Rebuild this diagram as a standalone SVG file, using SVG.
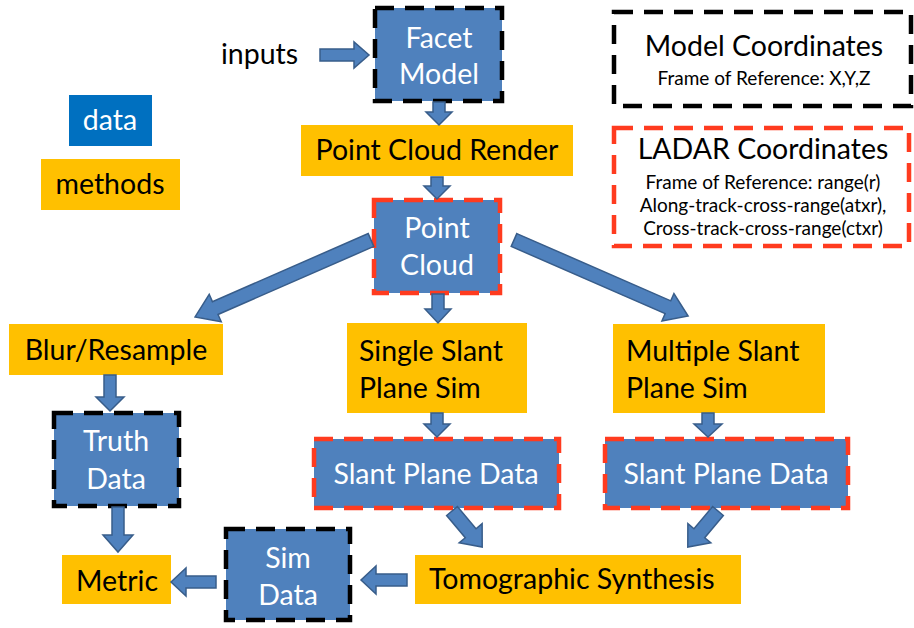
<svg xmlns="http://www.w3.org/2000/svg" width="914" height="628" viewBox="0 0 914 628">
<style>
text{font-family:Lato,"Open Sans","Liberation Sans",sans-serif;font-size:28.5px}
.w{fill:#ffffff}
.k{fill:#000000}
.c{text-anchor:middle}
.sm{font-size:19px}
.data{fill:#4f81bd}
.meth{fill:#ffc000}
.dk{fill:none;stroke:#000000;stroke-width:4.5;stroke-dasharray:19 11}
.dr{fill:none;stroke:#ff3b1f;stroke-width:4.5;stroke-dasharray:19 11}
.ar{fill:#4f81bd;stroke:#385d8a;stroke-width:1.5;stroke-linejoin:miter}
</style>
<rect width="914" height="628" fill="#ffffff"/>

<g id="legend-data"><rect x="69" y="95" width="83" height="51" fill="#0070c0"/><text class="w c" x="110" y="130">data</text></g>
<g id="legend-methods"><rect x="41" y="159" width="139" height="51" class="meth"/><text class="k c" x="110" y="194">methods</text></g>

<g id="model-coords"><rect x="614" y="12" width="297" height="94" class="dk"/>
<text class="k c" x="764" y="56">Model Coordinates</text>
<text class="k c sm" x="764" y="85">Frame of Reference: X,Y,Z</text></g>

<g id="ladar-coords"><rect x="614" y="128" width="295" height="118" class="dr"/>
<text class="k c" x="763" y="159">LADAR Coordinates</text>
<text class="k c sm" x="763" y="189">Frame of Reference: range(r)</text>
<text class="k c sm" x="763" y="212">Along-track-cross-range(atxr),</text>
<text class="k c sm" x="763" y="235">Cross-track-cross-range(ctxr)</text></g>

<g id="inputs"><text class="k" x="221" y="64">inputs</text></g>

<g id="facet-model"><rect x="375" y="8" width="127" height="93" class="data"/><rect x="375" y="8" width="127" height="93" class="dk"/>
<text class="w c" x="439" y="48">Facet</text><text class="w c" x="439" y="84">Model</text></g>

<g id="point-cloud-render"><rect x="301" y="125" width="272" height="51" class="meth"/><text class="k c" x="437" y="160">Point Cloud Render</text></g>

<g id="point-cloud"><rect x="374" y="200" width="126" height="93" class="data"/><rect x="374" y="200" width="126" height="93" class="dr"/>
<text class="w c" x="437" y="238">Point</text><text class="w c" x="437" y="275">Cloud</text></g>

<g id="blur-resample"><rect x="9" y="324" width="214" height="51" class="meth"/><text class="k c" x="116" y="360">Blur/Resample</text></g>

<g id="single-slant"><rect x="347" y="323" width="180" height="90" class="meth"/><text class="k" x="359" y="361">Single Slant</text><text class="k" x="359" y="398">Plane Sim</text></g>

<g id="multiple-slant"><rect x="613" y="324" width="212" height="89" class="meth"/><text class="k" x="626" y="361">Multiple Slant</text><text class="k" x="626" y="398">Plane Sim</text></g>

<g id="truth-data"><rect x="54" y="413" width="125" height="93" class="data"/><rect x="54" y="413" width="125" height="93" class="dk"/>
<text class="w c" x="116" y="451">Truth</text><text class="w c" x="116" y="489">Data</text></g>

<g id="slant-plane-data-1"><rect x="314" y="439" width="245" height="69" class="data"/><rect x="314" y="439" width="245" height="69" class="dr"/>
<text class="w c" x="436" y="484">Slant Plane Data</text></g>

<g id="slant-plane-data-2"><rect x="605" y="439" width="243" height="69" class="data"/><rect x="605" y="439" width="243" height="69" class="dr"/>
<text class="w c" x="726" y="484">Slant Plane Data</text></g>

<g id="tomographic-synthesis"><rect x="415" y="555" width="326" height="49" class="meth"/><text class="k" x="429" y="589">Tomographic Synthesis</text></g>

<g id="sim-data"><rect x="226" y="529" width="124" height="91" class="data"/><rect x="226" y="529" width="124" height="91" class="dk"/>
<text class="w c" x="288" y="568">Sim</text><text class="w c" x="288" y="605">Data</text></g>

<g id="metric"><rect x="62" y="555" width="109" height="49" class="meth"/><text class="k c" x="117" y="591">Metric</text></g>

<g id="connectors">
<polygon class="ar" transform="translate(320,55)" points="0,-6 34,-6 34,-13 49,0 34,13 34,6 0,6"/>
<polygon class="ar" transform="translate(439,102) rotate(90)" points="0,-6 10,-6 10,-13 23,0 10,13 10,6 0,6"/>
<polygon class="ar" transform="translate(437,177) rotate(90)" points="0,-6 9,-6 9,-13 22,0 9,13 9,6 0,6"/>
<polygon class="ar" transform="translate(371,240) rotate(156.4)" points="0,-7 170,-7 170,-15 192,0 170,15 170,7 0,7"/>
<polygon class="ar" transform="translate(514,240) rotate(23.6)" points="0,-7 168,-7 168,-15 190,0 168,15 168,7 0,7"/>
<polygon class="ar" transform="translate(438,294) rotate(90)" points="0,-6 15,-6 15,-13 29,0 15,13 15,6 0,6"/>
<polygon class="ar" transform="translate(110,375) rotate(90)" points="0,-6 22,-6 22,-14 36,0 22,14 22,6 0,6"/>
<polygon class="ar" transform="translate(437,413) rotate(90)" points="0,-6 11,-6 11,-13 24,0 11,13 11,6 0,6"/>
<polygon class="ar" transform="translate(708,413) rotate(90)" points="0,-6 11,-6 11,-14 24,0 11,14 11,6 0,6"/>
<polygon class="ar" transform="translate(118,507) rotate(90)" points="0,-6 28,-6 28,-15 45,0 28,15 28,6 0,6"/>
<polygon class="ar" transform="translate(452,511) rotate(50)" points="0,-7 29,-7 29,-15 47,0 29,15 29,7 0,7"/>
<polygon class="ar" transform="translate(718,511) rotate(130)" points="0,-7 29,-7 29,-15 47,0 29,15 29,7 0,7"/>
<polygon class="ar" transform="translate(407,580) rotate(180)" points="0,-6 31,-6 31,-14 46,0 31,14 31,6 0,6"/>
<polygon class="ar" transform="translate(216,582) rotate(180)" points="0,-6 30,-6 30,-14 45,0 30,14 30,6 0,6"/>
</g>
</svg>
